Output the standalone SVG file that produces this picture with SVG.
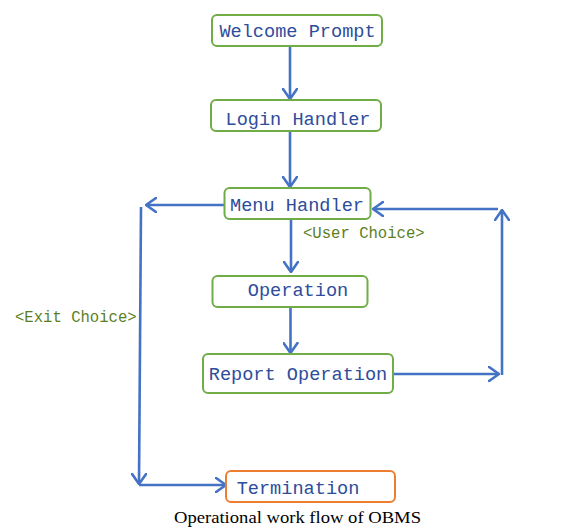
<svg xmlns="http://www.w3.org/2000/svg" width="584" height="528" viewBox="0 0 584 528">
<style>
.box{fill:#fff;stroke:#70ad47;stroke-width:2}
.term{fill:#fff;stroke:#ed7d31;stroke-width:2}
.nt{font-family:"Liberation Mono","DejaVu Sans Mono",monospace;font-size:18.6px;fill:#2e4d9b}
.lbl{font-family:"Liberation Mono","DejaVu Sans Mono",monospace;font-size:15.6px;fill:#5b7f1f}
.cap{font-family:"Liberation Serif","Times New Roman",serif;font-size:17px;fill:#000}
.c{stroke:#4472c4;stroke-width:2.6;fill:none;marker-end:url(#ah)}
.cn{stroke:#4472c4;stroke-width:2.6;fill:none}
</style>
<defs>
<marker id="ah" viewBox="0 0 12 16" refX="11" refY="8" markerWidth="12" markerHeight="16" markerUnits="userSpaceOnUse" orient="auto">
<path d="M1,1 L11,8 L1,15" fill="none" stroke="#4472c4" stroke-width="2.6" stroke-linecap="round" stroke-linejoin="round"/>
</marker>
</defs>
<rect width="584" height="528" fill="#fff"/>
<g id="connectors">
<line class="c" x1="290" y1="46" x2="290" y2="99"/>
<line class="c" x1="290" y1="131" x2="290" y2="187"/>
<line class="c" x1="291" y1="220" x2="291" y2="272"/>
<line class="c" x1="290.5" y1="307" x2="290.5" y2="353"/>
<line class="c" x1="224" y1="205" x2="146" y2="205"/>
<line class="c" x1="141" y1="207" x2="139" y2="484"/>
<line class="c" x1="139" y1="485" x2="226" y2="485"/>
<line class="c" x1="394" y1="374" x2="499" y2="374"/>
<line class="c" x1="502" y1="375" x2="502" y2="210"/>
<line class="c" x1="498" y1="209" x2="373" y2="209"/>
</g>
<g id="welcome">
<rect class="box" x="212" y="15" width="170" height="31" rx="5"/>
<text class="nt" x="297.5" y="37" text-anchor="middle">Welcome Prompt</text>
</g>
<g id="login">
<rect class="box" x="211" y="100" width="170" height="31" rx="5"/>
<text class="nt" x="298" y="125" text-anchor="middle">Login Handler</text>
</g>
<g id="menu">
<rect class="box" x="224.5" y="188" width="146" height="31" rx="5"/>
<text class="nt" x="297" y="211" text-anchor="middle">Menu Handler</text>
</g>
<g id="operation">
<rect class="box" x="212.5" y="276" width="155" height="31" rx="5"/>
<text class="nt" x="298" y="296" text-anchor="middle">Operation</text>
</g>
<g id="report">
<rect class="box" x="203" y="354" width="190" height="39" rx="5"/>
<text class="nt" x="298" y="380" text-anchor="middle">Report Operation</text>
</g>
<g id="termination">
<rect class="term" x="226" y="471" width="169" height="31" rx="5"/>
<text class="nt" x="298" y="494" text-anchor="middle">Termination</text>
</g>
<g id="labels">
<text class="lbl" x="303" y="238">&lt;User Choice&gt;</text>
<text class="lbl" x="15" y="322">&lt;Exit Choice&gt;</text>
<text class="cap" x="174" y="523" textLength="247" lengthAdjust="spacingAndGlyphs">Operational work flow of OBMS</text>
</g>
</svg>
